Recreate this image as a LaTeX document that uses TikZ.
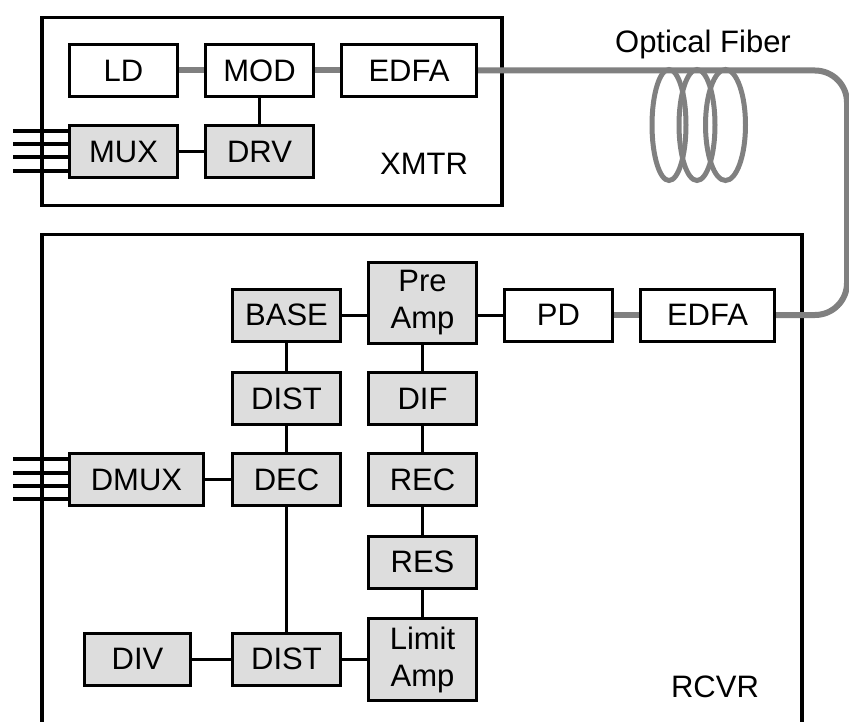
\documentclass[tikz,border=0pt]{standalone}
\usepackage{fontspec}
\setmainfont{Liberation Sans}
\usepackage{xcolor}
\definecolor{boxgray}{HTML}{DDDDDD}
\definecolor{fibergray}{HTML}{808080}

\begin{document}
\begin{tikzpicture}[x=1pt,y=-1pt,font=\fontsize{31}{37}\selectfont,
  box/.style={draw,line width=3pt,minimum width=108pt,minimum height=52pt,inner sep=0pt,align=center},
  gbox/.style={box,fill=boxgray},
  wire/.style={line width=3pt},
  fiber/.style={draw=fibergray,line width=6pt}]
\useasboundingbox (0,0) rectangle (849,722);
% transmitter
\draw[line width=3.3pt] (42,17.5) rectangle (502,205.5);
\node[box] (ld) at (123.5,70.5) {LD};
\node[box] (mod) at (259.5,70.5) {MOD};
\node[box,minimum width=135pt] (edfat) at (409,70.5) {EDFA};
\node[gbox] (mux) at (123.5,151.5) {MUX};
\node[gbox] (drv) at (259.5,151.5) {DRV};
\node (xmtr) at (424,164) {XMTR};
\draw[fiber] (ld)--(mod);\draw[fiber] (mod)--(edfat);
\draw[wire] (mod)--(drv);\draw[wire] (mux)--(drv);
\foreach \y in {131,144,157,171} \draw[line width=3.5pt] (13,\y)--(mux.west|-0,\y);
% fiber
\node[anchor=base] (fib) at (703,53) {Optical Fiber};
\foreach \cx/\rx in {669/17,697/18,725.5/20} \draw[fibergray,line width=5pt] (\cx,125) ellipse [x radius=\rx pt,y radius=55.5pt];
% receiver
\draw[line width=3.3pt] (42,722)--(42,234.5)--(802,234.5)--(802,722);
\node[gbox,minimum height=81pt] (pre) at (422.5,303) {Pre\\Amp};
\node[gbox] (base) at (286.5,315) {BASE};
\node[gbox] (dist) at (286.5,398.5) {DIST};
\node[gbox] (dif) at (422.5,398.5) {DIF};
\node[gbox,minimum width=134pt] (dmux) at (136.5,479.5) {DMUX};
\node[gbox] (dec) at (286.5,479.5) {DEC};
\node[gbox] (rec) at (422.5,479.5) {REC};
\node[gbox] (res) at (422.5,562) {RES};
\node[gbox,minimum height=82pt] (lim) at (422.5,659.5) {Limit\\Amp};
\node[gbox] (distb) at (286.5,659) {DIST};
\node[gbox,minimum width=106pt] (div) at (137.5,659) {DIV};
\node[box] (pd) at (558.5,315) {PD};
\node[box,minimum width=134pt] (edfar) at (707.5,315) {EDFA};
\node (rcvr) at (715,687) {RCVR};
\draw[fiber,rounded corners=32pt] (edfat.east)--(847,70.5)--(847,315)--(edfar.east);
\draw[fiber] (pd)--(edfar);
\draw[wire] (base)--(pre.west|-base);\draw[wire] (pre.east|-pd)--(pd);
\draw[wire] (base)--(dist);\draw[wire] (dist)--(dec);\draw[wire] (dmux)--(dec);
\draw[wire] (dec)--(distb);\draw[wire] (pre)--(dif);\draw[wire] (dif)--(rec);
\draw[wire] (rec)--(res);\draw[wire] (res)--(lim);
\draw[wire] (div)--(distb);\draw[wire] (distb)--(lim.west|-distb);
\foreach \y in {459,473,486,499} \draw[line width=3.5pt] (13,\y)--(dmux.west|-0,\y);
\end{tikzpicture}
\end{document}
